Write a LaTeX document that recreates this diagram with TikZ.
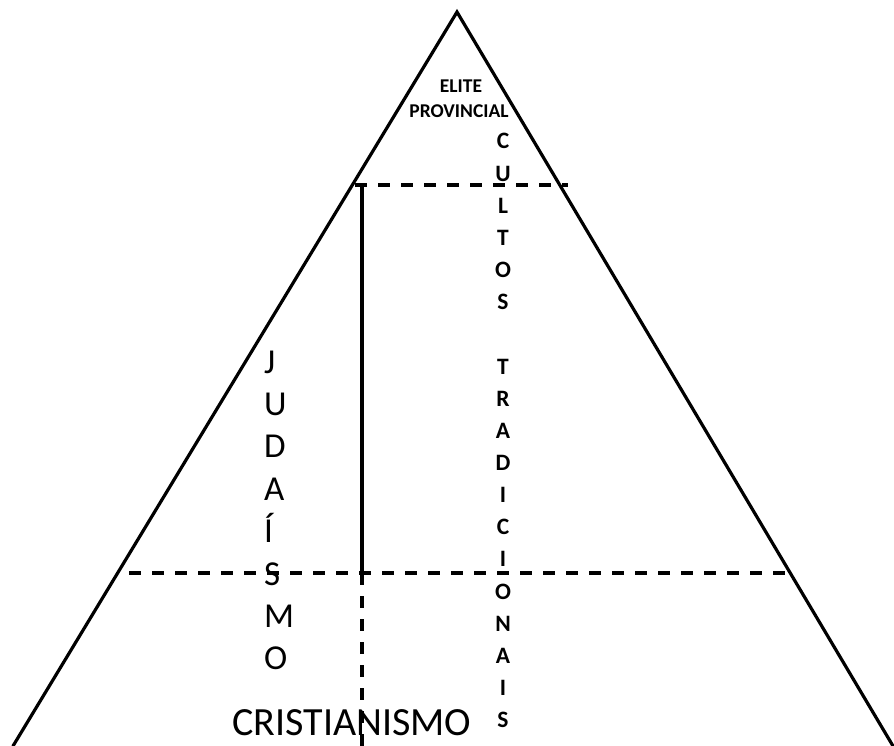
\documentclass[tikz,border=0pt]{standalone}
\usepackage{fontspec}
\setmainfont{Carlito}
\begin{document}
\begin{tikzpicture}[x=1pt,y=-1pt,
  edge/.style={line width=3.2pt,line cap=round},
  dline/.style={line width=3.2pt,dash pattern=on 12pt off 11pt},
  vline/.style={line width=3.2pt},
  lbl/.style={inner sep=0pt,anchor=base},
  cultfont/.style={lbl,font=\fontsize{23.5}{24}\selectfont\bfseries},
  judfont/.style={inner sep=0pt,anchor=base west,font=\fontsize{35}{40}\selectfont},
]
\useasboundingbox (0,0) rectangle (894,746);
% triangle
\coordinate (apex) at (457,12);
\coordinate (bl) at (13,746);
\coordinate (br) at (893,746);
\draw[edge] (bl) -- (apex) -- (br);
% dashed levels
\coordinate (u1) at (355,185);
\coordinate (u2) at (568,185);
\coordinate (l1) at (129,573);
\coordinate (l2) at (793,573);
\draw[dline] (u1) -- (u2);
\draw[dline] (l1) -- (l2);
% vertical divider
\coordinate (vt) at (362,185);
\coordinate (vm) at (362,573);
\coordinate (vb) at (362,746);
\draw[vline] (vt) -- (vm);
\draw[dline] (vm) -- (vb);
% texts
\node[lbl,font=\fontsize{19.5}{24}\selectfont\bfseries] (elite) at (461,93) {ELITE};
\node[lbl,font=\fontsize{19.5}{24}\selectfont\bfseries] (prov) at (459,118) {PROVINCIAL};
\foreach \l [count=\i from 0] in {C,U,L,T,O,S}
  \node[cultfont] (cul\i) at (503,{149+32.15*\i}) {\l};
\foreach \l [count=\i from 7] in {T,R,A,D,I,C,I,O,N,A,I,S}
  \node[cultfont] (tra\i) at (503,{149+32.15*\i}) {\l};
\foreach \l [count=\i from 0] in {J,U,D,A,Í,S,M,O}
  \node[judfont] (jud\i) at (264,{373+42.4*\i}) {\l};
\node[lbl,font=\fontsize{40}{44}\selectfont] (crist) at (352,735) {CRISTIANISMO};
\end{tikzpicture}
\end{document}
